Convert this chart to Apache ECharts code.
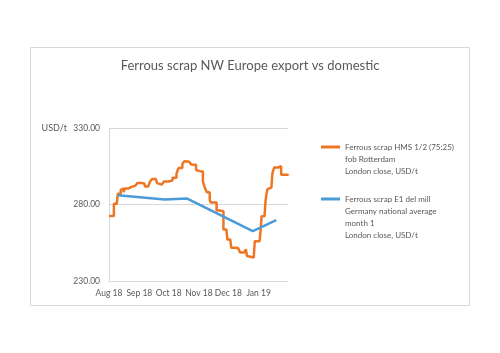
<!DOCTYPE html>
<html>
<head>
<meta charset="utf-8">
<script src="https://cdn.jsdelivr.net/npm/echarts@6/dist/echarts.min.js"></script>
<style>
  html, body { margin: 0; padding: 0; background: #fff; }
  #chart { width: 500px; height: 353px; }
</style>
</head>
<body>
<div id="chart"></div>
<script>
// export price, fob Rotterdam (daily assessments)
const exportDates = [
  '2018-08-01', '2018-08-03', '2018-08-06', '2018-08-09', '2018-08-10', '2018-08-13', '2018-08-14', '2018-08-16', '2018-08-17', '2018-08-21',
  '2018-08-24', '2018-08-28', '2018-08-30', '2018-09-03', '2018-09-06', '2018-09-07', '2018-09-10', '2018-09-12', '2018-09-14', '2018-09-18',
  '2018-09-19', '2018-09-21', '2018-09-24', '2018-09-26', '2018-10-01', '2018-10-03', '2018-10-05', '2018-10-09', '2018-10-10', '2018-10-11',
  '2018-10-15', '2018-10-17', '2018-10-19', '2018-10-22', '2018-10-24', '2018-10-26', '2018-10-29', '2018-10-31', '2018-11-02', '2018-11-05',
  '2018-11-06', '2018-11-07', '2018-11-09', '2018-11-12', '2018-11-13', '2018-11-16', '2018-11-19', '2018-11-23', '2018-11-26', '2018-11-29',
  '2018-11-30', '2018-12-03', '2018-12-04', '2018-12-07', '2018-12-11', '2018-12-12', '2018-12-13', '2018-12-17', '2018-12-19', '2018-12-20',
  '2018-12-21', '2018-12-27', '2018-12-28', '2019-01-02', '2019-01-03', '2019-01-04', '2019-01-07', '2019-01-08', '2019-01-09', '2019-01-10',
  '2019-01-11', '2019-01-14', '2019-01-15', '2019-01-16', '2019-01-17', '2019-01-21', '2019-01-23', '2019-01-24', '2019-01-31'
];
const exportPrices = [
  272.5, 272.5, 280.5, 280.5, 287, 289.5, 290.5, 288, 290.5, 291.5,
  292.3, 293, 294, 293.8, 294, 291.7, 292, 295, 296.7, 296.5,
  294, 293, 293.5, 295, 295.5, 295.8, 297.5, 300, 302, 303.8,
  306.6, 308.2, 308, 307, 306.2, 306, 302.5, 301.8, 301.5, 295,
  293, 291, 288, 283, 281.3, 281.3, 276, 275.6, 263.7, 263.5,
  257.1, 257, 251.7, 251.5, 251.3, 251, 248.6, 248.6, 250.6, 246.4,
  245.4, 245.4, 256, 256, 263, 272.4, 272.4, 282, 287, 290,
  291, 291.5, 300, 302.5, 304.2, 304.8, 305, 299.5, 299
];

// domestic price, E1 del mill Germany
const domesticDates = ['2018-08-10', '2018-09-27', '2018-10-20', '2018-12-26', '2019-01-19'];
const domesticPrices = [286, 283.2, 283.9, 262.6, 269.8];

const monthTicks = ['2018-08-01', '2018-09-01', '2018-10-01', '2018-11-01', '2018-12-01', '2019-01-01'];
const monthNames = ['Jan', 'Feb', 'Mar', 'Apr', 'May', 'Jun', 'Jul', 'Aug', 'Sep', 'Oct', 'Nov', 'Dec'];

const exportName = 'Ferrous scrap HMS 1/2 (75:25)\nfob Rotterdam\nLondon close, USD/t';
const domesticName = 'Ferrous scrap E1 del mill\nGermany national average\nmonth 1\nLondon close, USD/t';

const grey = '#595959';
const font = 'Lato';
const legendLine = 12;

// dates as UTC timestamps on a plain value axis
const ts = s => Date.parse(s);

// legend text is centred on its icon: pad the top with blank lines so the
// icon sits beside the first line, as in the original
const topAligned = name => '\n'.repeat(name.split('\n').length - 1) + name;

const chart = echarts.init(document.getElementById('chart'));

chart.setOption({
  animation: false,
  backgroundColor: '#fff',
  textStyle: { fontFamily: font },
  title: {
    text: 'Ferrous scrap NW Europe export vs domestic',
    left: 'center',
    top: 54,
    textStyle: { color: grey, fontSize: 13, fontWeight: 'normal', fontFamily: font }
  },
  graphic: [{
    type: 'rect',
    shape: { x: 30.5, y: 47.5, width: 439, height: 258 },
    style: { fill: 'none', stroke: '#d9d9d9', lineWidth: 1 },
    z: -1
  }],
  legend: [
    {
      orient: 'vertical', left: 321, top: 117, padding: 0,
      itemWidth: 19, itemHeight: 3, icon: 'rect',
      data: [exportName],
      formatter: topAligned,
      textStyle: { color: grey, fontSize: 8, lineHeight: legendLine, fontFamily: font }
    },
    {
      orient: 'vertical', left: 321, top: 157, padding: 0,
      itemWidth: 19, itemHeight: 3, icon: 'rect',
      data: [domesticName],
      formatter: topAligned,
      textStyle: { color: grey, fontSize: 8, lineHeight: legendLine, fontFamily: font }
    }
  ],
  grid: { left: 109, top: 128, right: 212, bottom: 72, containLabel: false },
  xAxis: {
    type: 'value',
    min: ts('2018-08-01'),
    max: ts('2019-01-31'),
    axisLine: { show: true, lineStyle: { color: '#d9d9d9', width: 1 } },
    axisTick: { show: false },
    splitLine: { show: false },
    axisLabel: {
      customValues: monthTicks.map(ts),
      color: grey,
      fontSize: 8.5,
      margin: 8,
      fontFamily: font,
      hideOverlap: false,
      formatter: function (v) {
        const d = new Date(v);
        return monthNames[d.getUTCMonth()] + ' ' + String(d.getUTCFullYear()).slice(2);
      }
    }
  },
  yAxis: {
    type: 'value',
    min: 230,
    max: 330,
    interval: 50,
    name: 'USD/t',
    nameLocation: 'end',
    nameGap: 0,
    nameTextStyle: { color: grey, fontSize: 9, align: 'right', verticalAlign: 'middle', padding: [0, 42, 0, 0], fontFamily: font },
    axisLine: { show: true, lineStyle: { color: '#d9d9d9', width: 1 } },
    axisTick: { show: false },
    splitLine: { show: true, lineStyle: { color: '#d9d9d9', width: 1 } },
    axisLabel: {
      color: grey,
      fontSize: 8.5,
      margin: 9,
      fontFamily: font,
      formatter: function (v) { return v.toFixed(2); }
    }
  },
  series: [
    {
      name: exportName,
      type: 'line',
      symbol: 'none',
      step: 'end',
      color: '#EE7623',
      lineStyle: { width: 2.5, color: '#EE7623' },
      data: exportDates.map((d, i) => [ts(d), exportPrices[i]])
    },
    {
      name: domesticName,
      type: 'line',
      symbol: 'none',
      color: '#4C9BD9',
      lineStyle: { width: 2.5, color: '#4C9BD9' },
      data: domesticDates.map((d, i) => [ts(d), domesticPrices[i]])
    }
  ]
});
</script>
</body>
</html>
